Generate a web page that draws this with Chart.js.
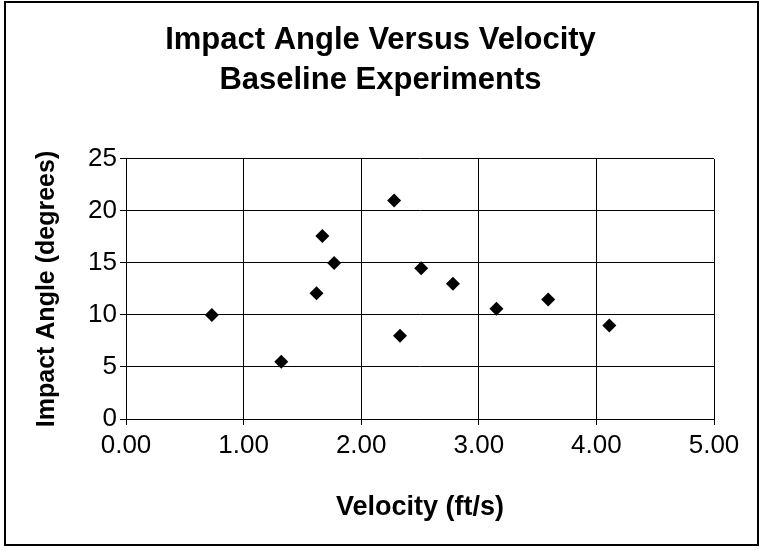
<!DOCTYPE html>
<html>
<head>
<meta charset="utf-8">
<script src="https://cdn.jsdelivr.net/npm/chart.js@4"></script>
<style>
  html, body { margin: 0; padding: 0; background: #fff; }
</style>
</head>
<body>
<canvas id="chart" width="761" height="550"></canvas>
<script>
// data
const velocity = [0.73, 1.32, 1.62, 1.67, 1.77, 2.28, 2.33, 2.51, 2.78, 3.15, 3.59, 4.11];
const impactAngle = [10.0, 5.5, 12.1, 17.6, 15.0, 21.0, 8.0, 14.5, 13.0, 10.6, 11.5, 9.0];
const titleLines = ['Impact Angle Versus Velocity', 'Baseline Experiments'];
const xTitle = 'Velocity (ft/s)';
const yTitle = 'Impact Angle (degrees)';

const FONT = "'Liberation Sans', Arial, sans-serif";
// equal side padding so the title sits in the middle of the picture
const PAD = { left: 30, right: 30, top: 0, bottom: 20 };

// outer frame round the whole picture, like the Excel chart area
const frame = {
  id: 'frame',
  afterDraw(chart) {
    const ctx = chart.ctx;
    ctx.save();
    ctx.strokeStyle = '#000';
    ctx.lineWidth = 2;
    ctx.strokeRect(5, 2, 753, 543);
    ctx.restore();
  }
};

new Chart(document.getElementById('chart'), {
  type: 'scatter',
  data: {
    datasets: [{
      data: velocity.map((v, i) => ({ x: v, y: impactAngle[i] })),
      pointStyle: 'rectRot',
      pointRadius: 7,
      pointHoverRadius: 7,
      backgroundColor: '#000',
      borderColor: '#000',
      borderWidth: 0
    }]
  },
  options: {
    responsive: false,
    animation: false,
    layout: { padding: PAD },
    plugins: {
      legend: { display: false },
      tooltip: { enabled: false },
      title: {
        display: true,
        text: titleLines,
        color: '#000',
        font: { family: FONT, size: 31, weight: 'bold', lineHeight: 1.29 },
        padding: { top: 20, bottom: 59 }
      }
    },
    scales: {
      x: {
        type: 'linear',
        min: 0,
        max: 5,
        ticks: {
          stepSize: 1,
          color: '#000',
          padding: 5,
          font: { family: FONT, size: 26 },
          callback: v => v.toFixed(2)
        },
        grid: { color: '#000', lineWidth: 1, tickLength: 6 },
        border: { color: '#000', width: 1 },
        title: {
          display: true,
          text: xTitle,
          color: '#000',
          font: { family: FONT, size: 27, weight: 'bold' },
          padding: { top: 10, bottom: 6 }
        },
        afterFit(scale) { scale.height = 550 - PAD.bottom - 419; }
      },
      y: {
        min: 0,
        max: 25,
        ticks: {
          stepSize: 5,
          color: '#000',
          padding: 3,
          font: { family: FONT, size: 26 }
        },
        grid: { color: '#000', lineWidth: 1, tickLength: 6 },
        border: { color: '#000', width: 1 },
        title: {
          display: true,
          text: yTitle,
          color: '#000',
          font: { family: FONT, size: 25, weight: 'bold' },
          padding: { top: 2, bottom: 4 }
        },
        afterFit(scale) { scale.width = 126 - PAD.left; }
      },
      // empty right axis, only keeps the plot's right edge where it is
      yRight: {
        position: 'right',
        display: true,
        min: 0,
        max: 25,
        ticks: { display: false },
        grid: { display: false, drawTicks: false },
        border: { display: false },
        afterFit(scale) { scale.width = 761 - 714 - PAD.right; }
      }
    }
  },
  plugins: [frame]
});
</script>
</body>
</html>
